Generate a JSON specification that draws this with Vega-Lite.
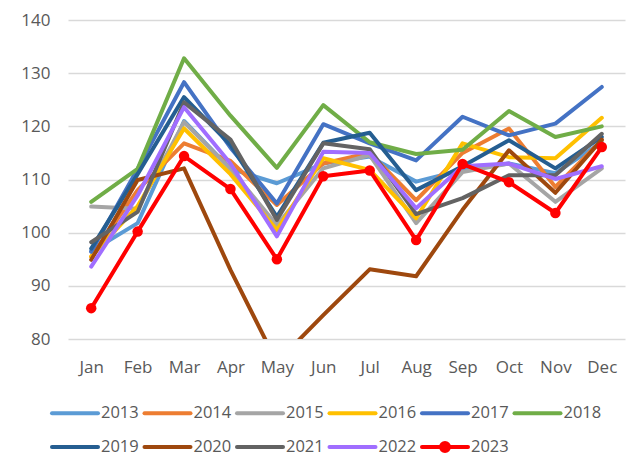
{
  "$schema": "https://vega.github.io/schema/vega-lite/v6.json",
  "autosize": {"type": "none"},
  "width": 557,
  "height": 319,
  "padding": {"left": 68, "top": 20, "right": 15, "bottom": 129},
  "background": "white",
  "config": {
    "view": {"stroke": null},
    "font": "Open Sans",
    "axis": {"labelFont": "Open Sans", "labelFontSize": 17, "labelColor": "#595959", "ticks": false, "tickSize": 0, "domain": false},
    "legend": {"labelFont": "Open Sans", "labelFontSize": 16.5, "labelColor": "#595959"}
  },
  "data": {
    "values": [
      {"month": "Jan", "year": "2013", "value": 96.5}, {"month": "Feb", "year": "2013", "value": 101.8}, {"month": "Mar", "year": "2013", "value": 121}, {"month": "Apr", "year": "2013", "value": 112}, {"month": "May", "year": "2013", "value": 109.3}, {"month": "Jun", "year": "2013", "value": 113}, {"month": "Jul", "year": "2013", "value": 114.3}, {"month": "Aug", "year": "2013", "value": 109.6}, {"month": "Sep", "year": "2013", "value": 111.8}, {"month": "Oct", "year": "2013", "value": 113}, {"month": "Nov", "year": "2013", "value": 111.2}, {"month": "Dec", "year": "2013", "value": 117},
      {"month": "Jan", "year": "2014", "value": 95.5}, {"month": "Feb", "year": "2014", "value": 108}, {"month": "Mar", "year": "2014", "value": 116.8}, {"month": "Apr", "year": "2014", "value": 113.5}, {"month": "May", "year": "2014", "value": 105.2}, {"month": "Jun", "year": "2014", "value": 113}, {"month": "Jul", "year": "2014", "value": 115}, {"month": "Aug", "year": "2014", "value": 106.1}, {"month": "Sep", "year": "2014", "value": 115}, {"month": "Oct", "year": "2014", "value": 119.6}, {"month": "Nov", "year": "2014", "value": 108.6}, {"month": "Dec", "year": "2014", "value": 117.4},
      {"month": "Jan", "year": "2015", "value": 104.9}, {"month": "Feb", "year": "2015", "value": 104.5}, {"month": "Mar", "year": "2015", "value": 120.8}, {"month": "Apr", "year": "2015", "value": 112}, {"month": "May", "year": "2015", "value": 101.4}, {"month": "Jun", "year": "2015", "value": 112.1}, {"month": "Jul", "year": "2015", "value": 114.6}, {"month": "Aug", "year": "2015", "value": 101.8}, {"month": "Sep", "year": "2015", "value": 111.4}, {"month": "Oct", "year": "2015", "value": 113}, {"month": "Nov", "year": "2015", "value": 105.8}, {"month": "Dec", "year": "2015", "value": 112.1},
      {"month": "Jan", "year": "2016", "value": 95.5}, {"month": "Feb", "year": "2016", "value": 105}, {"month": "Mar", "year": "2016", "value": 119.6}, {"month": "Apr", "year": "2016", "value": 111}, {"month": "May", "year": "2016", "value": 100.5}, {"month": "Jun", "year": "2016", "value": 114}, {"month": "Jul", "year": "2016", "value": 111.8}, {"month": "Aug", "year": "2016", "value": 102.7}, {"month": "Sep", "year": "2016", "value": 116.8}, {"month": "Oct", "year": "2016", "value": 114.2}, {"month": "Nov", "year": "2016", "value": 114}, {"month": "Dec", "year": "2016", "value": 121.6},
      {"month": "Jan", "year": "2017", "value": 96.4}, {"month": "Feb", "year": "2017", "value": 112}, {"month": "Mar", "year": "2017", "value": 128.3}, {"month": "Apr", "year": "2017", "value": 116}, {"month": "May", "year": "2017", "value": 105.5}, {"month": "Jun", "year": "2017", "value": 120.4}, {"month": "Jul", "year": "2017", "value": 116.8}, {"month": "Aug", "year": "2017", "value": 113.6}, {"month": "Sep", "year": "2017", "value": 121.8}, {"month": "Oct", "year": "2017", "value": 118.3}, {"month": "Nov", "year": "2017", "value": 120.5}, {"month": "Dec", "year": "2017", "value": 127.4},
      {"month": "Jan", "year": "2018", "value": 105.8}, {"month": "Feb", "year": "2018", "value": 112}, {"month": "Mar", "year": "2018", "value": 132.8}, {"month": "Apr", "year": "2018", "value": 122}, {"month": "May", "year": "2018", "value": 112.2}, {"month": "Jun", "year": "2018", "value": 124}, {"month": "Jul", "year": "2018", "value": 117}, {"month": "Aug", "year": "2018", "value": 114.8}, {"month": "Sep", "year": "2018", "value": 115.6}, {"month": "Oct", "year": "2018", "value": 122.9}, {"month": "Nov", "year": "2018", "value": 118}, {"month": "Dec", "year": "2018", "value": 120},
      {"month": "Jan", "year": "2019", "value": 97}, {"month": "Feb", "year": "2019", "value": 111}, {"month": "Mar", "year": "2019", "value": 125.5}, {"month": "Apr", "year": "2019", "value": 116.5}, {"month": "May", "year": "2019", "value": 103}, {"month": "Jun", "year": "2019", "value": 116.9}, {"month": "Jul", "year": "2019", "value": 118.8}, {"month": "Aug", "year": "2019", "value": 108}, {"month": "Sep", "year": "2019", "value": 112.5}, {"month": "Oct", "year": "2019", "value": 117.4}, {"month": "Nov", "year": "2019", "value": 112.1}, {"month": "Dec", "year": "2019", "value": 118},
      {"month": "Jan", "year": "2020", "value": 94.9}, {"month": "Feb", "year": "2020", "value": 109.9}, {"month": "Mar", "year": "2020", "value": 112.1}, {"month": "Apr", "year": "2020", "value": 93}, {"month": "May", "year": "2020", "value": 75.6}, {"month": "Jun", "year": "2020", "value": 84.5}, {"month": "Jul", "year": "2020", "value": 93.1}, {"month": "Aug", "year": "2020", "value": 91.8}, {"month": "Sep", "year": "2020", "value": 104.3}, {"month": "Oct", "year": "2020", "value": 115.5}, {"month": "Nov", "year": "2020", "value": 107.5}, {"month": "Dec", "year": "2020", "value": 117.5},
      {"month": "Jan", "year": "2021", "value": 98.2}, {"month": "Feb", "year": "2021", "value": 103.9}, {"month": "Mar", "year": "2021", "value": 124.5}, {"month": "Apr", "year": "2021", "value": 117.5}, {"month": "May", "year": "2021", "value": 102.4}, {"month": "Jun", "year": "2021", "value": 116.8}, {"month": "Jul", "year": "2021", "value": 115.7}, {"month": "Aug", "year": "2021", "value": 103.5}, {"month": "Sep", "year": "2021", "value": 106.5}, {"month": "Oct", "year": "2021", "value": 110.8}, {"month": "Nov", "year": "2021", "value": 110.8}, {"month": "Dec", "year": "2021", "value": 118.6},
      {"month": "Jan", "year": "2022", "value": 93.6}, {"month": "Feb", "year": "2022", "value": 107}, {"month": "Mar", "year": "2022", "value": 123.6}, {"month": "Apr", "year": "2022", "value": 113}, {"month": "May", "year": "2022", "value": 99.3}, {"month": "Jun", "year": "2022", "value": 115.2}, {"month": "Jul", "year": "2022", "value": 115}, {"month": "Aug", "year": "2022", "value": 104.6}, {"month": "Sep", "year": "2022", "value": 112.5}, {"month": "Oct", "year": "2022", "value": 113}, {"month": "Nov", "year": "2022", "value": 110.1}, {"month": "Dec", "year": "2022", "value": 112.5},
      {"month": "Jan", "year": "2023", "value": 85.8}, {"month": "Feb", "year": "2023", "value": 100.2}, {"month": "Mar", "year": "2023", "value": 114.4}, {"month": "Apr", "year": "2023", "value": 108.2}, {"month": "May", "year": "2023", "value": 95}, {"month": "Jun", "year": "2023", "value": 110.6}, {"month": "Jul", "year": "2023", "value": 111.7}, {"month": "Aug", "year": "2023", "value": 98.6}, {"month": "Sep", "year": "2023", "value": 112.9}, {"month": "Oct", "year": "2023", "value": 109.5}, {"month": "Nov", "year": "2023", "value": 103.7}, {"month": "Dec", "year": "2023", "value": 116.1}
    ]
  },
  "encoding": {
    "x": {
      "field": "month", "type": "ordinal",
      "sort": ["Jan", "Feb", "Mar", "Apr", "May", "Jun", "Jul", "Aug", "Sep", "Oct", "Nov", "Dec"],
      "scale": {"type": "point", "padding": 0.5},
      "axis": {"title": null, "labelAngle": 0, "labelPadding": 20, "grid": false}
    },
    "y": {
      "field": "value", "type": "quantitative",
      "scale": {"domain": [80, 140], "nice": false, "zero": false},
      "axis": {"title": null, "values": [80, 90, 100, 110, 120, 130, 140], "labelPadding": 18, "grid": true, "gridColor": "#D9D9D9", "gridWidth": 1.3}
    }
  },
  "layer": [
    {
      "mark": {"type": "line", "strokeWidth": 4, "clip": true, "strokeJoin": "round", "strokeCap": "round"},
      "encoding": {
        "color": {
          "field": "year", "type": "nominal",
          "scale": {
            "domain": ["2013", "2014", "2015", "2016", "2017", "2018", "2019", "2020", "2021", "2022", "2023"],
            "range": ["#5B9BD5", "#ED7D31", "#A5A5A5", "#FFC000", "#4472C4", "#70AD47", "#255E91", "#9E480E", "#636363", "#A06EFF", "#FF0000"]
          },
          "legend": {
            "title": null, "orient": "none", "legendX": -18, "legendY": 368,
            "direction": "horizontal", "columns": 6, "padding": 0,
            "symbolType": "stroke", "symbolSize": 2116, "symbolStrokeWidth": 4,
            "labelOffset": 1, "columnPadding": -2.5, "rowPadding": -1,
            "encode": {
              "symbols": {
                "update": {
                  "shape": {"signal": "datum.value === '2023' ? 'M-1,0L1,0M0.174,0A0.174,0.174 0 1,1 -0.174,0A0.174,0.174 0 1,1 0.174,0Z' : 'stroke'"},
                  "fill": {"signal": "datum.value === '2023' ? '#FF0000' : 'transparent'"},
                  "strokeCap": {"value": "round"}
                }
              }
            }
          }
        }
      }
    },
    {
      "transform": [{"filter": "datum.year === '2023'"}],
      "mark": {"type": "point", "filled": true, "size": 110, "opacity": 1, "clip": true},
      "encoding": {"color": {"value": "#FF0000"}}
    }
  ]
}
